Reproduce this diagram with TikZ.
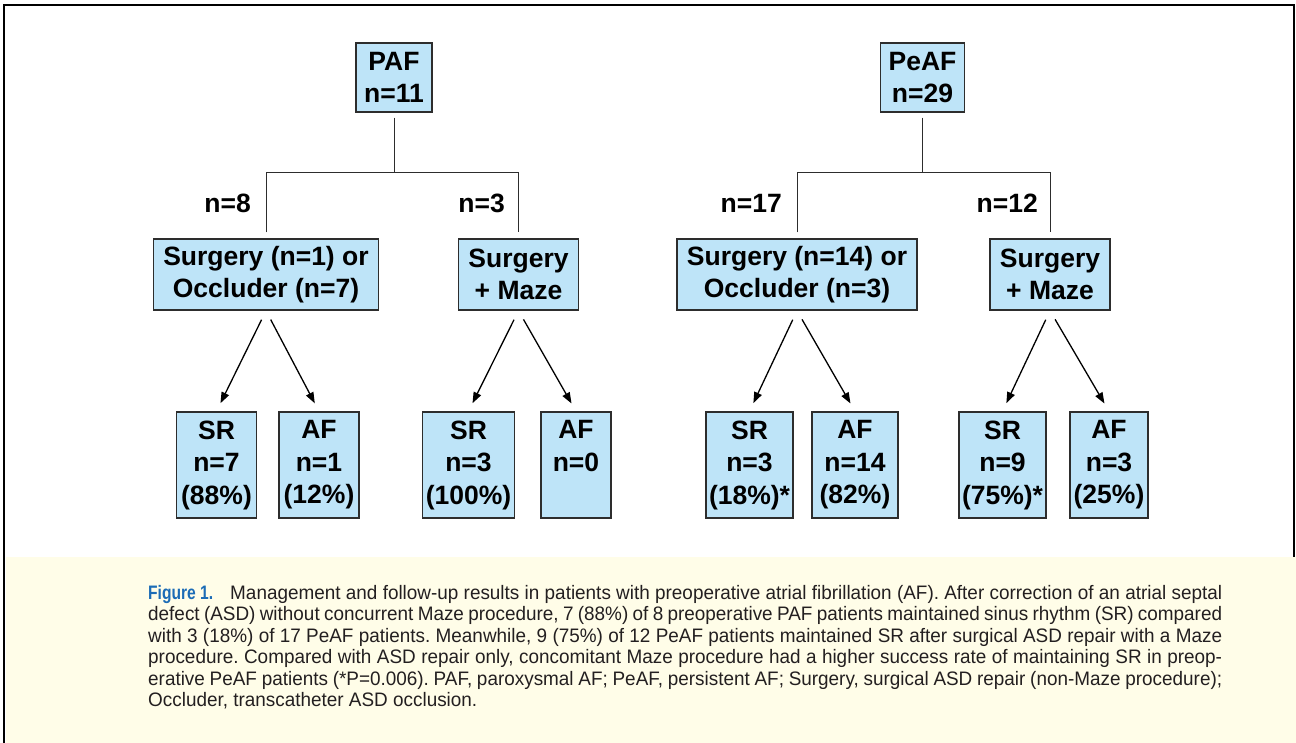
\documentclass[tikz,border=0pt]{standalone}
\usepackage{fontspec}
\setmainfont{Liberation Sans}
\newfontfamily\capfont[FakeStretch=0.97]{Liberation Sans}
\newfontfamily\figfont[FakeStretch=0.8]{Liberation Sans}
\usetikzlibrary{arrows.meta}
\definecolor{boxblue}{RGB}{190,228,248}
\definecolor{boxline}{RGB}{45,45,45}
\definecolor{capyellow}{RGB}{255,253,232}
\definecolor{figblue}{RGB}{28,108,182}
\definecolor{captext}{RGB}{35,31,32}
\tikzset{
  box/.style={draw=boxline, fill=boxblue, line width=1.4pt, align=center,
    font=\bfseries\fontsize{26.5}{32.5}\selectfont},
  topbox/.style={box, inner xsep=8pt, inner ysep=2pt, minimum height=69pt},
  midbox/.style={box, inner xsep=10pt, inner ysep=2pt, minimum height=71pt},
  endbox/.style={box, inner xsep=3pt, inner ysep=2pt, minimum width=80pt, minimum height=106pt},
  branch/.style={anchor=east, inner sep=0pt, font=\bfseries\fontsize{26.5}{32.5}\selectfont},
  tree/.style={line width=1pt, draw=boxline},
  result/.style={line width=1.3pt, -{Triangle[length=11pt,width=8pt]},
    shorten <=10pt, shorten >=9pt}
}
\begin{document}
\begin{tikzpicture}[x=1pt, y=-1pt]
  \useasboundingbox (0,0) rectangle (1296,743);
  % frame and caption panel
  \fill[capyellow] (6,557) rectangle (1296,743);
  \draw[line width=2.5pt] (4,743) -- (4,5) -- (1294,5) -- (1294,557);

  % first level
  \node[topbox] (paf) at (394,77.5) {PAF\\n=11};
  \node[topbox] (peaf) at (922.5,77.5) {PeAF\\n=29};

  % second level
  \node[midbox] (pafocc) at (266,274.5) {Surgery (n=1) or\\Occluder (n=7)};
  \node[midbox] (pafmaze) at (518.5,274.5) {Surgery\\+ Maze};
  \node[midbox] (peafocc) at (797,274.5) {Surgery (n=14) or\\Occluder (n=3)};
  \node[midbox] (peafmaze) at (1050,274.5) {Surgery\\+ Maze};

  \node[branch] (n8) at (251,203) {n=8};
  \node[branch] (n3) at (505,203) {n=3};
  \node[branch] (n17) at (782,203) {n=17};
  \node[branch] (n12) at (1038,203) {n=12};

  % outcomes
  \node[endbox] (sr1) at (216.5,465) {SR\\n=7\\(88\%)};
  \node[endbox] (af1) at (319,465) {AF\\n=1\\(12\%)};
  \node[endbox] (sr2) at (468.5,465) {SR\\n=3\\(100\%)};
  \node[endbox, minimum width=70pt] (af2) at (576,465) {AF\\n=0\\\phantom{(0\%)}};
  \node[endbox] (sr3) at (749.5,465) {SR\\n=3\\(18\%)*};
  \node[endbox, minimum width=86pt] (af3) at (855,465) {AF\\n=14\\(82\%)};
  \node[endbox] (sr4) at (1002.5,465) {SR\\n=9\\(75\%)*};
  \node[endbox, minimum width=78pt] (af4) at (1109,465) {AF\\n=3\\(25\%)};

  \draw[tree] ([yshift=-5pt]paf.south) -- ([yshift=-60pt]paf.south);
  \draw[tree] ([yshift=6pt]pafocc.north) |- ([yshift=-60pt]paf.south) -| ([yshift=6pt]pafmaze.north);
  \draw[tree] ([yshift=-5pt]peaf.south) -- ([yshift=-60pt]peaf.south);
  \draw[tree] ([yshift=6pt]peafocc.north) |- ([yshift=-60pt]peaf.south) -| ([yshift=6pt]peafmaze.north);

  \draw[result] (pafocc.south) -- (sr1.north);
  \draw[result] (pafocc.south) -- (af1.north);
  \draw[result] (pafmaze.south) -- (sr2.north);
  \draw[result] (pafmaze.south) -- (af2.north);
  \draw[result] (peafocc.south) -- (sr3.north);
  \draw[result] (peafocc.south) -- (af3.north);
  \draw[result] (peafmaze.south) -- (sr4.north);
  \draw[result] (peafmaze.south) -- (af4.north);

  % caption
  \node[anchor=north west, text width=1074pt, align=justify, inner sep=0pt, text=captext,
    font=\capfont\fontsize{19.5}{21.5}\selectfont\frenchspacing] (caption) at (148,585)
    {{\figfont\bfseries\color{figblue}Figure 1.}\hspace{17pt}Management and follow-up results in patients with preoperative atrial fibrillation (AF). After correction of an atrial septal\linebreak
    defect (ASD) without concurrent Maze procedure, 7 (88\%) of 8 preoperative PAF patients maintained sinus rhythm (SR) compared\linebreak
    with 3 (18\%) of 17 PeAF patients. Meanwhile, 9 (75\%) of 12 PeAF patients maintained SR after surgical ASD repair with a Maze\linebreak
    procedure. Compared with ASD repair only, concomitant Maze procedure had a higher success rate of maintaining SR in preop-\linebreak
    erative PeAF patients (*P=0.006). PAF, paroxysmal AF; PeAF, persistent AF; Surgery, surgical ASD repair (non-Maze procedure);\linebreak
    Occluder, transcatheter ASD occlusion.};
\end{tikzpicture}
\end{document}
